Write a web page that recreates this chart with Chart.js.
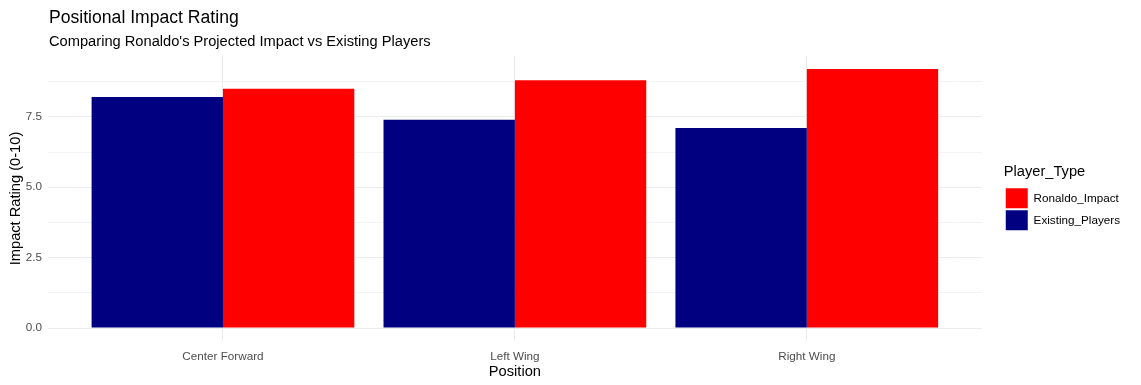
<!DOCTYPE html>
<html>
<head>
<meta charset="utf-8">
<script src="https://cdn.jsdelivr.net/npm/chart.js@4/dist/chart.umd.min.js"></script>
<style>
  html, body { margin: 0; padding: 0; background: #fff; }
  #wrap { width: 1141px; height: 385px; }
</style>
</head>
<body>
<div id="wrap"><canvas id="impactCanvas" width="1141" height="385"></canvas></div>
<script>
var positions = ['Center Forward', 'Left Wing', 'Right Wing'];
var existingPlayers = [8.2, 7.4, 7.1];
var ronaldoImpact = [8.5, 8.8, 9.2];
var yTicks = [0, 1.25, 2.5, 3.75, 5, 6.25, 7.5, 8.75];
var yMin = -0.46;
var yMax = 9.66;

var chartTitle = 'Positional Impact Rating';
var chartSubtitle = "Comparing Ronaldo's Projected Impact vs Existing Players";

var FONT = "'Liberation Sans', Arial, sans-serif";
Chart.defaults.font.family = FONT;

// ggplot style grid: major lines a bit darker than minor ones
function gridColor(c) {
    if (c.tick && c.tick.value % 2.5 === 0) return '#EBEBEB';
    return '#F3F3F3';
}
function setTicks(axis) {
    axis.ticks = yTicks.map(function(v) { return {value: v}; });
}

// title + subtitle sit at the panel's left edge, like ggplot
var headerText = {
    id: 'headerText',
    afterDraw: function(chart) {
        var ctx = chart.ctx;
        var x = chart.chartArea.left - 29 + 1;
        ctx.save();
        ctx.fillStyle = '#000';
        ctx.textAlign = 'left';
        ctx.textBaseline = 'alphabetic';
        ctx.font = '17.6px ' + FONT;
        ctx.fillText(chartTitle, x, 22.5);
        ctx.font = '14.67px ' + FONT;
        ctx.fillText(chartSubtitle, x, 46);
        ctx.restore();
    }
};

var chartdata = {
    labels: positions,
    datasets: [{
        label: 'Existing_Players',
        data: existingPlayers,
        backgroundColor: '#000080',
        borderWidth: 0
    }, {
        label: 'Ronaldo_Impact',
        data: ronaldoImpact,
        backgroundColor: '#FF0000',
        borderWidth: 0
    }]
};

var ctx = document.getElementById('impactCanvas');

var impactChart = new Chart(ctx, {
    type: 'bar',
    data: chartdata,
    plugins: [headerText],
    options: {
        responsive: false,
        animation: false,
        devicePixelRatio: 1,
        categoryPercentage: 0.9,
        barPercentage: 1.0,
        layout: { padding: { top: 56, right: 11, bottom: 0, left: 0 } },
        plugins: {
            tooltip: { enabled: false },
            legend: {
                position: 'right',
                fullSize: false,
                reverse: true,
                align: 'center',
                title: {
                    display: true,
                    text: 'Player_Type',
                    color: '#000',
                    position: 'start',
                    font: { size: 14.67 },
                    padding: { top: 0, bottom: 4 }
                },
                labels: {
                    boxWidth: 22,
                    boxHeight: 20,
                    padding: 2,
                    color: '#000',
                    font: { size: 11.7 }
                }
            }
        },
        scales: {
            x: {
                offset: true,
                border: { display: false },
                grid: { offset: false, color: '#EBEBEB', drawTicks: false },
                ticks: { padding: 9, color: '#4D4D4D', font: { size: 11.7 } },
                title: {
                    display: true,
                    text: 'Position',
                    color: '#000',
                    font: { size: 14.67 },
                    padding: { top: 0, bottom: 4 }
                },
                afterFit: function(axis) { axis.height = 44; }
            },
            y: {
                position: 'left',
                min: yMin,
                max: yMax,
                afterBuildTicks: setTicks,
                afterFit: function(axis) { axis.width = 77; },
                border: { display: false },
                grid: { color: gridColor, drawTicks: true, tickLength: 29 },
                ticks: {
                    padding: 6,
                    color: '#4D4D4D',
                    font: { size: 11.7 },
                    autoSkip: false,
                    callback: function(v) { return v % 2.5 === 0 ? v.toFixed(1) : ''; }
                },
                title: {
                    display: true,
                    text: 'Impact Rating (0-10)',
                    color: '#000',
                    font: { size: 14.67 },
                    padding: { top: 7, bottom: 0 }
                }
            },
            // only there to carry the grid lines past the bars on the right
            yRight: {
                position: 'right',
                min: yMin,
                max: yMax,
                afterBuildTicks: setTicks,
                afterFit: function(axis) { axis.width = 51; },
                border: { display: false },
                grid: { color: gridColor, drawOnChartArea: false, drawTicks: true, tickLength: 29 },
                ticks: { display: false }
            }
        }
    }
});
</script>
</body>
</html>
